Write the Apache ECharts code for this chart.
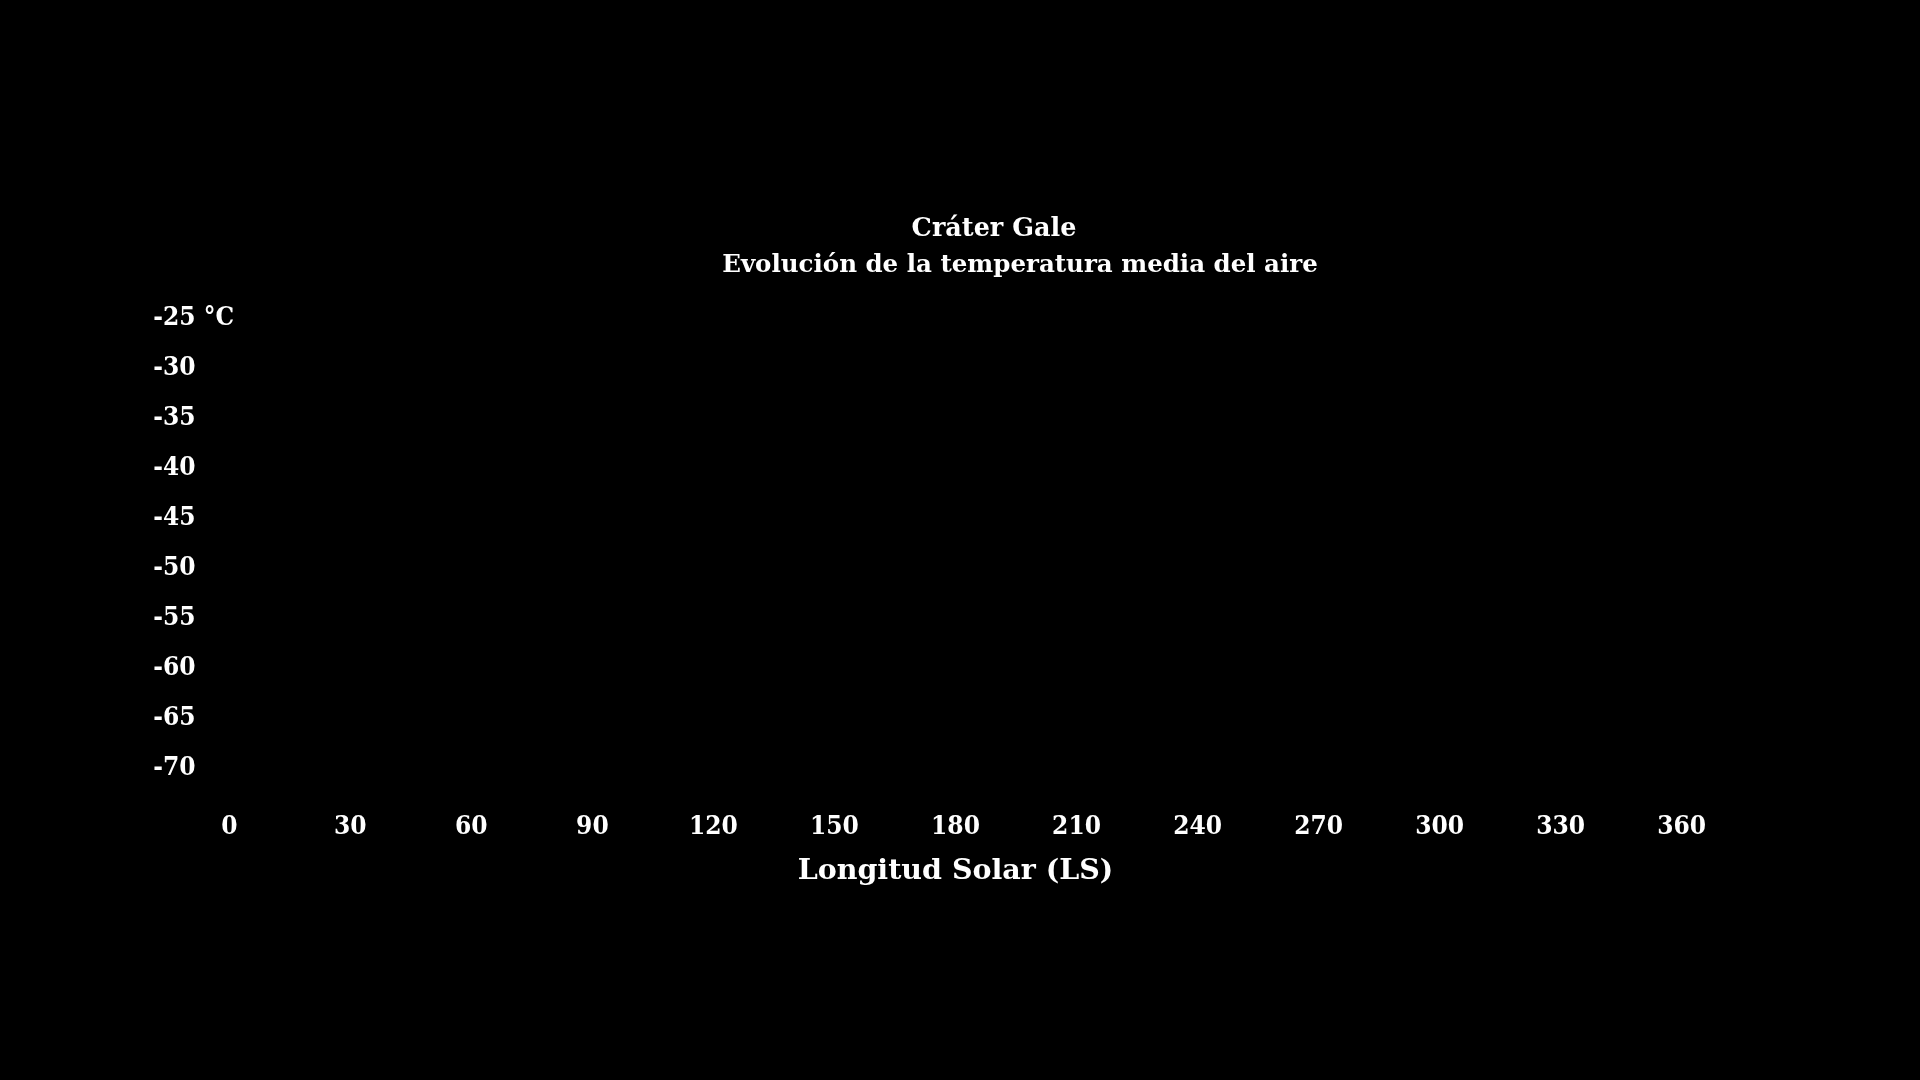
<!DOCTYPE html>
<html>
<head>
<meta charset="utf-8">
<script src="https://cdn.jsdelivr.net/npm/echarts@6/dist/echarts.min.js"></script>
<style>
html,body{margin:0;padding:0;background:#000;}
#c{width:1920px;height:1080px;}
</style>
</head>
<body>
<div id="c"></div>
<script>
// Data (no visible series marks in the reference)
const titleText = 'Cráter Gale';
const subtitleText = 'Evolución de la temperatura media del aire';
const xAxisName = 'Longitud Solar (LS)';
const xTicks = [0, 30, 60, 90, 120, 150, 180, 210, 240, 270, 300, 330, 360];
const yTicks = [-25, -30, -35, -40, -45, -50, -55, -60, -65, -70];
const temperatureSeries = [];

const TEXTFONT = '"DejaVu Serif", serif';
const TICKFONT = '"DejaVu Serif Condensed", "DejaVu Serif", serif';
const chart = echarts.init(document.getElementById('c'));
chart.setOption({
  backgroundColor: '#000',
  animation: false,
  title: [
    { text: titleText, left: 989, top: 211, textAlign: 'center',
      textStyle: { color: '#fff', fontFamily: TEXTFONT, fontWeight: 'bold', fontSize: 25.5 } },
    { text: subtitleText, left: 1015, top: 248, textAlign: 'center',
      textStyle: { color: '#fff', fontFamily: TEXTFONT, fontWeight: 'bold', fontSize: 24.5 } }
  ],
  grid: { left: 229.3, right: 238.3, top: 318.5, bottom: 261.5, containLabel: false },
  xAxis: {
    type: 'value', min: 0, max: 360, interval: 30,
    name: xAxisName, nameLocation: 'middle', nameGap: 38.5,
    nameTextStyle: { color: '#fff', fontFamily: TEXTFONT, fontWeight: 'bold', fontSize: 28.5 },
    axisLine: { show: false }, axisTick: { show: false }, splitLine: { show: false },
    axisLabel: { color: '#fff', fontFamily: TICKFONT, fontWeight: 'bold', fontSize: 26, margin: -4.5,
      formatter: v => xTicks.includes(v) ? String(v) : '' }
  },
  yAxis: {
    type: 'value', min: -75, max: -25, interval: 5,
    axisLine: { show: false }, axisTick: { show: false }, splitLine: { show: false },
    axisLabel: { color: '#fff', fontFamily: TICKFONT, fontWeight: 'bold', fontSize: 26, align: 'left', margin: 76,
      showMinLabel: false,
      formatter: v => yTicks.includes(v) ? (v === -25 ? v + ' °C' : String(v)) : '' }
  },
  series: [{ type: 'line', data: temperatureSeries, showSymbol: false, lineStyle: { color: '#000' } }]
});
</script>
</body>
</html>
